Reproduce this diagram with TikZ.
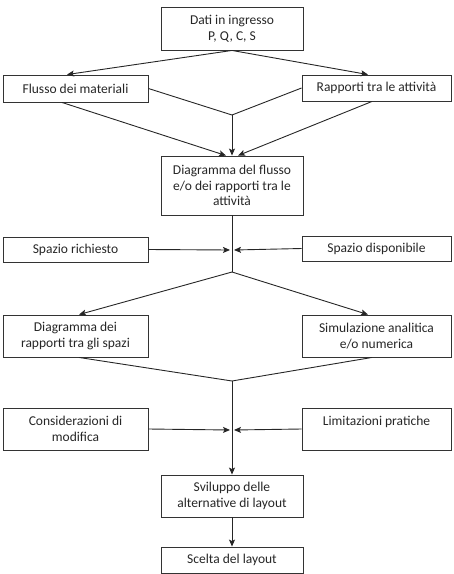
\documentclass[tikz,border=0pt]{standalone}
\usepackage{fontspec}
\setmainfont{Carlito}
\usetikzlibrary{arrows.meta,calc}
\begin{document}
\begin{tikzpicture}[x=1pt,y=-1pt,
  box/.style={draw=black!80,line width=0.9pt,rectangle,inner sep=0pt,align=center,
    font=\fontsize{13.5}{15.5}\selectfont,text=black!85},
  conn/.style={draw=black!85,line width=0.9pt},
  arr/.style={conn,-{Stealth[length=7pt,width=6pt,inset=1.5pt]}}]
\useasboundingbox (0,0) rectangle (454,574);
\node[box,minimum width=142pt,minimum height=43pt] (dati) at (232,28.5) {Dati in ingresso\\P, Q, C, S};
\node[box,minimum width=145pt,minimum height=27pt] (flusso) at (75.5,88.5) {Flusso dei materiali};
\node[box,minimum width=149pt,minimum height=26pt] (rapporti) at (376.5,88) {Rapporti tra le attività};
\node[box,minimum width=142pt,minimum height=59pt] (diag) at (232,185.5) {Diagramma del flusso\\e/o dei rapporti tra le\\attività};
\node[box,minimum width=145pt,minimum height=25pt] (richiesto) at (75.5,249.5) {Spazio richiesto};
\node[box,minimum width=149pt,minimum height=25pt] (disponibile) at (376.5,248.5) {Spazio disponibile};
\node[box,minimum width=145pt,minimum height=42pt] (spazi) at (75.5,336) {Diagramma dei\\rapporti tra gli spazi};
\node[box,minimum width=149pt,minimum height=42pt] (simul) at (376.5,336) {Simulazione analitica\\e/o numerica};
\node[box,minimum width=145pt,minimum height=42pt] (consid) at (75.5,429) {Considerazioni di\\modifica};
\node[box,minimum width=149pt,minimum height=42pt] (limit) at (376.5,429) {Limitazioni pratiche\\\mbox{}};
\node[box,minimum width=142pt,minimum height=42pt] (svil) at (232,496) {Sviluppo delle\\alternative di layout};
\node[box,minimum width=142pt,minimum height=26pt] (scelta) at (232,560) {Scelta del layout};
\coordinate (j1) at (232,115);
\coordinate (j2) at (232,272);
\coordinate (j3) at (232,381);
\coordinate (h1l) at (230,250);
\coordinate (h1r) at (234,250);
\coordinate (h2l) at (230,430);
\coordinate (h2r) at (234,430);
% top
\draw[arr] (dati.south) -- ($(flusso.north)+(-8.5,0)$);
\draw[arr] (dati.south) -- ($(rapporti.north)+(-8.5,0)$);
\draw[conn] (flusso.east) -- (j1);
\draw[conn] (rapporti.west) -- (j1);
\draw[arr] (j1) -- (diag.north);
\draw[arr] ($(flusso.south)+(-13.5,0)$) -- ($(diag.north)+(-6,0)$);
\draw[arr] ($(rapporti.south)+(-4.5,0)$) -- ($(diag.north)+(6,0)$);
% middle
\draw[conn] (diag.south) -- (j2);
\draw[arr] (richiesto.east) -- (h1l);
\draw[arr] (disponibile.west) -- (h1r);
\draw[arr] (j2) -- ($(spazi.north)+(3.5,0)$);
\draw[arr] (j2) -- ($(simul.north)+(-8.5,0)$);
\draw[conn] ($(spazi.south)+(3.5,0)$) -- (j3);
\draw[conn] ($(simul.south)+(-4.5,0)$) -- (j3);
% bottom
\draw[arr] (j3) -- (svil.north);
\draw[arr] (consid.east) -- (h2l);
\draw[arr] (limit.west) -- (h2r);
\draw[arr] (svil.south) -- (scelta.north);
\end{tikzpicture}
\end{document}
